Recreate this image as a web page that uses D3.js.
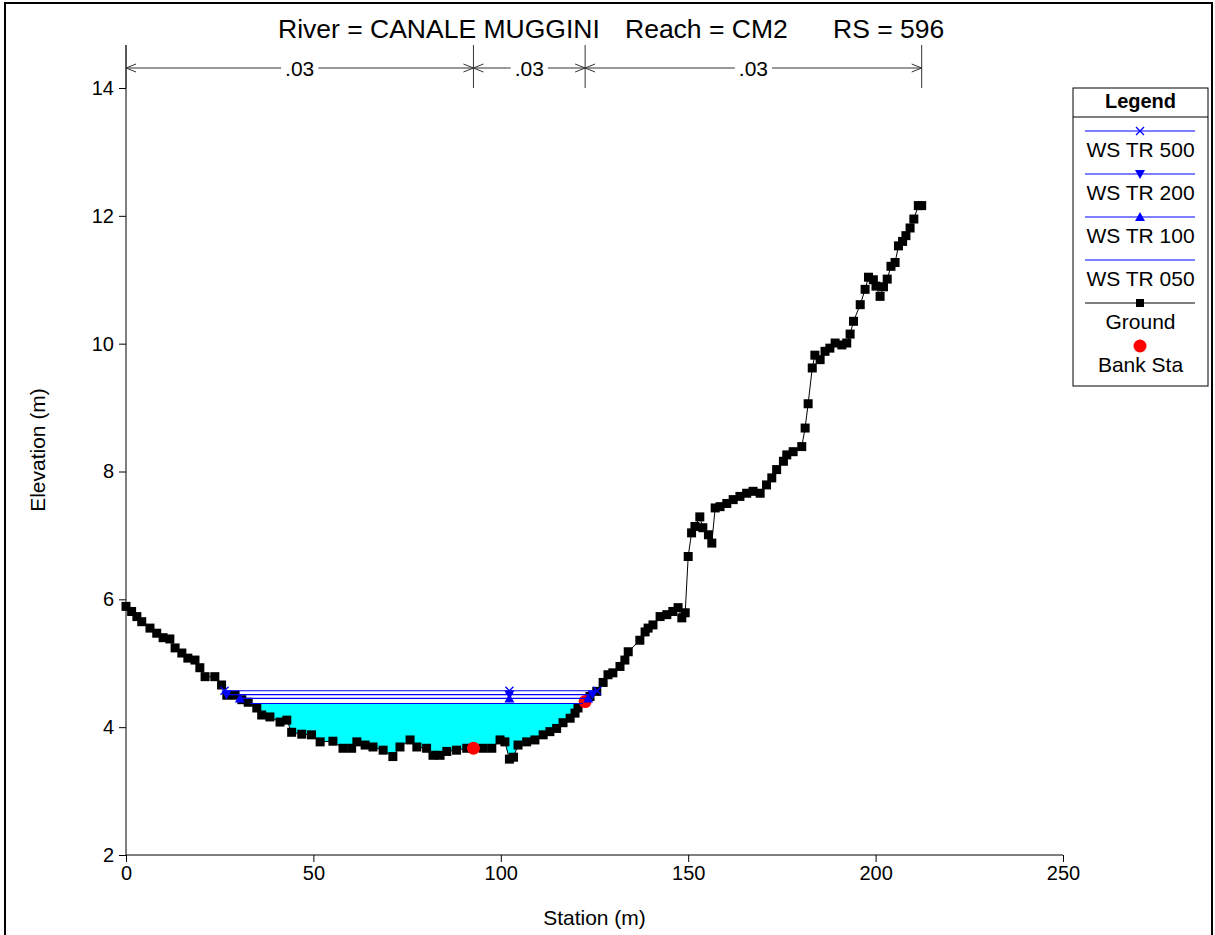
<!DOCTYPE html>
<html>
<head>
<meta charset="utf-8">
<script src="https://cdn.jsdelivr.net/npm/d3@7"></script>
<style>
  body { margin: 0; background: #fff; }
  svg { display: block; }
  text { font-family: "Liberation Sans", Arial, sans-serif; fill: #000; }
</style>
</head>
<body>
<svg id="chart" width="1215" height="935"></svg>
<script>
// ---- cross-section data ----
const groundStation = [0, 1.5, 2.9, 4.2, 6.4, 8.2, 9.9, 11.7, 13.1, 14.9, 16.5, 18.4, 19.7, 21.1, 23.7, 25.5, 26.9, 29.1, 30.9, 32.6,
  34.9, 36.2, 38.4, 41.1, 42.9, 44.2, 46.9, 49.5, 51.8, 55.2, 57.9, 60.2, 61.6, 63.8, 65.9, 68.6, 71.2, 73.1, 75.8, 77.6,
  80.2, 81.9, 83.8, 85.6, 88.2, 90.9, 92.7, 95.3, 97.6, 99.8, 101.1, 102.3, 103.4, 104.6, 106.9, 109.1, 111.3, 113.1, 114.9, 116.6,
  118.5, 119.8, 120.6, 122.5, 123.8, 125.6, 127.3, 128.6, 129.9, 131.8, 133.1, 134.0, 137.1, 138.5, 139.3, 140.6, 142.5, 144.3, 145.9, 147.3,
  148.3, 149.2, 150.0, 150.9, 151.8, 153.1, 153.9, 155.4, 156.3, 157.2, 158.5, 160.3, 162.0, 163.8, 165.6, 167.3, 169.2, 170.9, 172.3, 173.6,
  175.4, 176.3, 178.0, 180.3, 181.2, 182.0, 183.1, 183.8, 185.2, 186.5, 187.8, 189.2, 191.0, 192.3, 193.2, 194.1, 195.9, 197.2, 198.1, 199.4,
  200.1, 201.2, 202.1, 203.1, 204.1, 205.2, 206.1, 207.2, 208.1, 209.2, 210.2, 211.4, 212.3];
const groundElevation = [5.89, 5.81, 5.73, 5.65, 5.55, 5.47, 5.40, 5.38, 5.24, 5.16, 5.08, 5.05, 4.93, 4.79, 4.79, 4.66, 4.50, 4.50, 4.43, 4.39,
  4.30, 4.19, 4.16, 4.08, 4.11, 3.92, 3.89, 3.88, 3.77, 3.78, 3.67, 3.67, 3.77, 3.72, 3.69, 3.64, 3.54, 3.69, 3.80, 3.69,
  3.67, 3.56, 3.56, 3.62, 3.64, 3.67, 3.67, 3.67, 3.67, 3.80, 3.77, 3.50, 3.53, 3.72, 3.77, 3.80, 3.88, 3.93, 3.98, 4.07,
  4.14, 4.22, 4.30, 4.40, 4.48, 4.56, 4.70, 4.82, 4.85, 4.95, 5.05, 5.18, 5.36, 5.49, 5.55, 5.60, 5.73, 5.76, 5.81, 5.87,
  5.71, 5.79, 6.67, 7.04, 7.14, 7.29, 7.12, 7.01, 6.88, 7.43, 7.45, 7.50, 7.56, 7.61, 7.66, 7.69, 7.66, 7.79, 7.90, 8.03,
  8.16, 8.26, 8.31, 8.39, 8.68, 9.06, 9.62, 9.82, 9.75, 9.88, 9.93, 10.01, 9.98, 10.01, 10.15, 10.35, 10.61, 10.85, 11.04, 11.00,
  10.90, 10.74, 10.89, 11.01, 11.21, 11.27, 11.53, 11.60, 11.69, 11.81, 11.95, 12.16, 12.16];

// water surface profiles, highest first
const wsProfiles = ["WS TR 500", "WS TR 200", "WS TR 100", "WS TR 050"];
const wsElevation = [4.57, 4.51, 4.45, 4.37];
const wsSymbols = ["cross", "down", "up", "none"];

// bank stations
const bankStation = [92.7, 122.5];
const bankElevation = [3.67, 4.40];

// Manning's n regions
const manningStation = [0, 92.7, 122.5, 212.3];
const manningValue = [0.03, 0.03, 0.03];

// axis ticks
const xMajorTicks = [0, 50, 100, 150, 200, 250];
const yMajorTicks = [2, 4, 6, 8, 10, 12, 14];

const titleParts = ["River = CANALE MUGGINI", "Reach = CM2", "RS = 596"];

// ---- drawing ----
const svg = d3.select("#chart");
const FONT = '"Liberation Sans", Arial, sans-serif';

const x = d3.scaleLinear().domain([0, 250]).range([126, 1063]);
const y = d3.scaleLinear().domain([2, 14]).range([855, 88]);
const plotTop = 45;
const SQ = 9; // ground symbol size

const ground = groundStation.map((s, i) => ({ s, e: groundElevation[i] }));

// outer frame
svg.append("rect").attr("x", 5).attr("y", 3).attr("width", 1207).attr("height", 940)
  .attr("fill", "none").attr("stroke", "#000").attr("stroke-width", 2);

// title
const titleX = [278, 625, 833];
titleParts.forEach((t, i) => {
  svg.append("text").attr("x", titleX[i]).attr("y", 38)
    .attr("font-size", 26.5).text(t);
});

// wetted extent of a water level around the thalweg
const thalweg = d3.minIndex(ground, d => d.e);
function wetted(ws) {
  let li = thalweg;
  while (li > 0 && ground[li - 1].e < ws) li--;
  let ri = thalweg;
  while (ri < ground.length - 1 && ground[ri + 1].e < ws) ri++;
  const interp = (a, b) => a.s + (ws - a.e) / (b.e - a.e) * (b.s - a.s);
  const left = li > 0 ? interp(ground[li - 1], ground[li]) : ground[0].s;
  const right = ri < ground.length - 1 ? interp(ground[ri], ground[ri + 1]) : ground[ground.length - 1].s;
  const pts = [{ s: left, e: ws }].concat(ground.slice(li, ri + 1), [{ s: right, e: ws }]);
  return { left, right, pts };
}

// water fill up to the lowest profile
const lowWS = d3.min(wsElevation);
const lowWet = wetted(lowWS);
svg.append("path")
  .datum(lowWet.pts)
  .attr("fill", "#00ffff")
  .attr("d", d3.area().x(d => x(d.s)).y0(d => y(d.e)).y1(y(lowWS)));

// axes
const xAxis = svg.append("g").attr("transform", "translate(0,855)");
xAxis.call(d3.axisBottom(x).tickValues(d3.range(0, 251, 10)).tickSize(5).tickSizeOuter(0).tickFormat(""));
xAxis.call(d3.axisBottom(x).tickValues(xMajorTicks).tickSize(7).tickSizeOuter(0).tickPadding(4).tickFormat(d3.format("d")));
xAxis.selectAll(".domain").remove();
xAxis.selectAll("text").attr("font-size", 20).attr("font-family", FONT).attr("fill", "#000");
svg.append("line").attr("x1", x(0)).attr("x2", x(250)).attr("y1", 855).attr("y2", 855).attr("stroke", "#000");

const yAxis = svg.append("g").attr("transform", "translate(126,0)");
yAxis.call(d3.axisLeft(y).tickValues(d3.range(2, 14.01, 0.4)).tickSize(4).tickSizeOuter(0).tickFormat(""));
yAxis.call(d3.axisLeft(y).tickValues(yMajorTicks).tickSize(7).tickSizeOuter(0).tickPadding(5).tickFormat(d3.format("d")));
yAxis.selectAll(".domain").remove();
yAxis.selectAll("text").attr("font-size", 20).attr("font-family", FONT).attr("fill", "#000");
svg.append("line").attr("x1", 126).attr("x2", 126).attr("y1", 855).attr("y2", plotTop).attr("stroke", "#000");

svg.append("text").attr("x", (x(0) + x(250)) / 2).attr("y", 925).attr("text-anchor", "middle")
  .attr("font-size", 21).text("Station (m)");
svg.append("text").attr("transform", `translate(45,${(plotTop + 855) / 2}) rotate(-90)`)
  .attr("text-anchor", "middle").attr("font-size", 21).text("Elevation (m)");

// Manning's n dimension line
const nY = 68;
const nG = svg.append("g").attr("stroke", "#333").attr("fill", "none");
manningStation.forEach(s => {
  nG.append("line").attr("x1", x(s)).attr("x2", x(s)).attr("y1", plotTop).attr("y2", 88);
});
const arrow = (px, dir) => {
  nG.append("path").attr("d", `M${px + dir * 10},${nY - 4}L${px},${nY}L${px + dir * 10},${nY + 4}`);
};
manningValue.forEach((v, i) => {
  const a = x(manningStation[i]), b = x(manningStation[i + 1]);
  nG.append("line").attr("x1", a).attr("x2", b).attr("y1", nY).attr("y2", nY);
  arrow(a, 1);
  arrow(b, -1);
  const label = d3.format(".2f")(v).replace(/^0/, "");
  const t = svg.append("text").attr("x", (a + b) / 2).attr("y", nY + 7.5).attr("text-anchor", "middle")
    .attr("font-size", 21).text(label);
  const bb = t.node().getBBox();
  svg.insert("rect", () => t.node()).attr("x", bb.x - 4).attr("y", nY - 3).attr("width", bb.width + 8)
    .attr("height", 6).attr("fill", "#fff");
});

// ground line and points
svg.append("path").datum(ground).attr("fill", "none").attr("stroke", "#000").attr("stroke-width", 1)
  .attr("d", d3.line().x(d => x(d.s)).y(d => y(d.e)));
svg.append("g").selectAll("rect").data(ground).join("rect")
  .attr("x", d => x(d.s) - SQ / 2).attr("y", d => y(d.e) - SQ / 2).attr("width", SQ).attr("height", SQ).attr("fill", "#000");

// bank stations
svg.append("g").selectAll("circle").data(bankStation).join("circle")
  .attr("cx", d => x(d)).attr("cy", (d, i) => y(bankElevation[i])).attr("r", 6.5).attr("fill", "#ff0000");

// marker shapes
function marker(g, kind, cx, cy, color) {
  if (kind === "cross") {
    g.append("path").attr("d", `M${cx - 4},${cy - 4}L${cx + 4},${cy + 4}M${cx - 4},${cy + 4}L${cx + 4},${cy - 4}`)
      .attr("stroke", color).attr("stroke-width", 1.3).attr("fill", "none");
  } else if (kind === "down") {
    g.append("path").attr("d", `M${cx - 5},${cy - 4}L${cx + 5},${cy - 4}L${cx},${cy + 5}Z`).attr("fill", color);
  } else if (kind === "up") {
    g.append("path").attr("d", `M${cx - 5},${cy + 4}L${cx + 5},${cy + 4}L${cx},${cy - 5}Z`).attr("fill", color);
  } else if (kind === "square") {
    g.append("rect").attr("x", cx - 4).attr("y", cy - 4).attr("width", 8).attr("height", 8).attr("fill", color);
  } else if (kind === "circle") {
    g.append("circle").attr("cx", cx).attr("cy", cy).attr("r", 6.5).attr("fill", color);
  }
}

// water surface lines with symbols at both edges and over the thalweg
const wsG = svg.append("g");
wsElevation.forEach((ws, i) => {
  const w = wetted(ws);
  wsG.append("line").attr("x1", x(w.left)).attr("x2", x(w.right)).attr("y1", y(ws)).attr("y2", y(ws))
    .attr("stroke", "#0000ff").attr("stroke-width", 1.2);
  [w.left, ground[thalweg].s, w.right].forEach(s => marker(wsG, wsSymbols[i], x(s), y(ws), "#0000ff"));
});

// legend
const lg = svg.append("g");
lg.append("rect").attr("x", 1073).attr("y", 88).attr("width", 135).attr("height", 298)
  .attr("fill", "#fff").attr("stroke", "#000").attr("stroke-width", 1);
lg.append("line").attr("x1", 1073).attr("x2", 1208).attr("y1", 117).attr("y2", 117).attr("stroke", "#000");
lg.append("text").attr("x", 1140.5).attr("y", 108).attr("text-anchor", "middle").attr("font-size", 20)
  .attr("font-weight", "bold").text("Legend");
const legendItems = wsProfiles.map((name, i) => ({ name, color: "#0000ff", sym: wsSymbols[i], line: true }))
  .concat([{ name: "Ground", color: "#000", sym: "square", line: true },
           { name: "Bank Sta", color: "#ff0000", sym: "circle", line: false }]);
legendItems.forEach((it, i) => {
  const ly = 131 + i * 43;
  if (it.line) {
    lg.append("line").attr("x1", 1085).attr("x2", 1195).attr("y1", ly).attr("y2", ly)
      .attr("stroke", it.color).attr("stroke-width", 1.2);
  }
  marker(lg, it.sym, 1140, ly, it.color);
  lg.append("text").attr("x", 1140.5).attr("y", ly + 26).attr("text-anchor", "middle").attr("font-size", 21).text(it.name);
});
</script>
</body>
</html>
